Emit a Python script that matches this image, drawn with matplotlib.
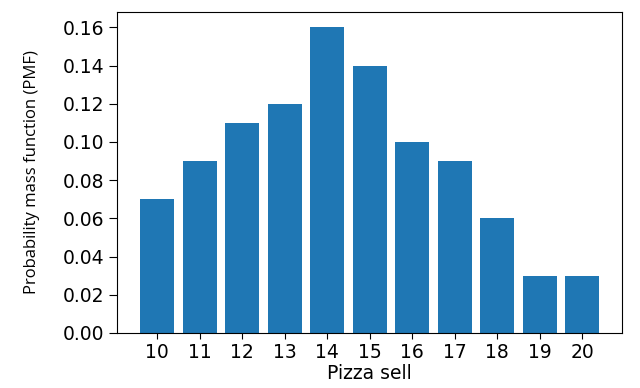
import matplotlib
matplotlib.use("Agg")
import matplotlib.pyplot as plt

pizzas = [10, 11, 12, 13, 14, 15, 16, 17, 18, 19, 20]
pmf = [0.07, 0.09, 0.11, 0.12, 0.16, 0.14, 0.10, 0.09, 0.06, 0.03, 0.03]

fig = plt.figure(figsize=(6.4, 3.88), dpi=100)
ax = fig.add_axes([0.183, 0.142, 0.789, 0.827])
ax.bar(pizzas, pmf, color="#1f77b4", width=0.8)
ax.set_xticks(pizzas)
ax.set_yticks([0.00, 0.02, 0.04, 0.06, 0.08, 0.10, 0.12, 0.14, 0.16])
ax.set_yticklabels([f"{v:.2f}" for v in ax.get_yticks()])
ax.tick_params(axis="both", labelsize=13.5)
ax.tick_params(axis="y", length=6)
ax.tick_params(axis="x", length=4)
ax.set_xlabel("Pizza sell", fontsize=13.5, labelpad=1)
ax.set_ylabel("Probability mass function (PMF)", fontsize=12, family="Open Sans", labelpad=16)
fig.savefig("out.png", dpi=100)
